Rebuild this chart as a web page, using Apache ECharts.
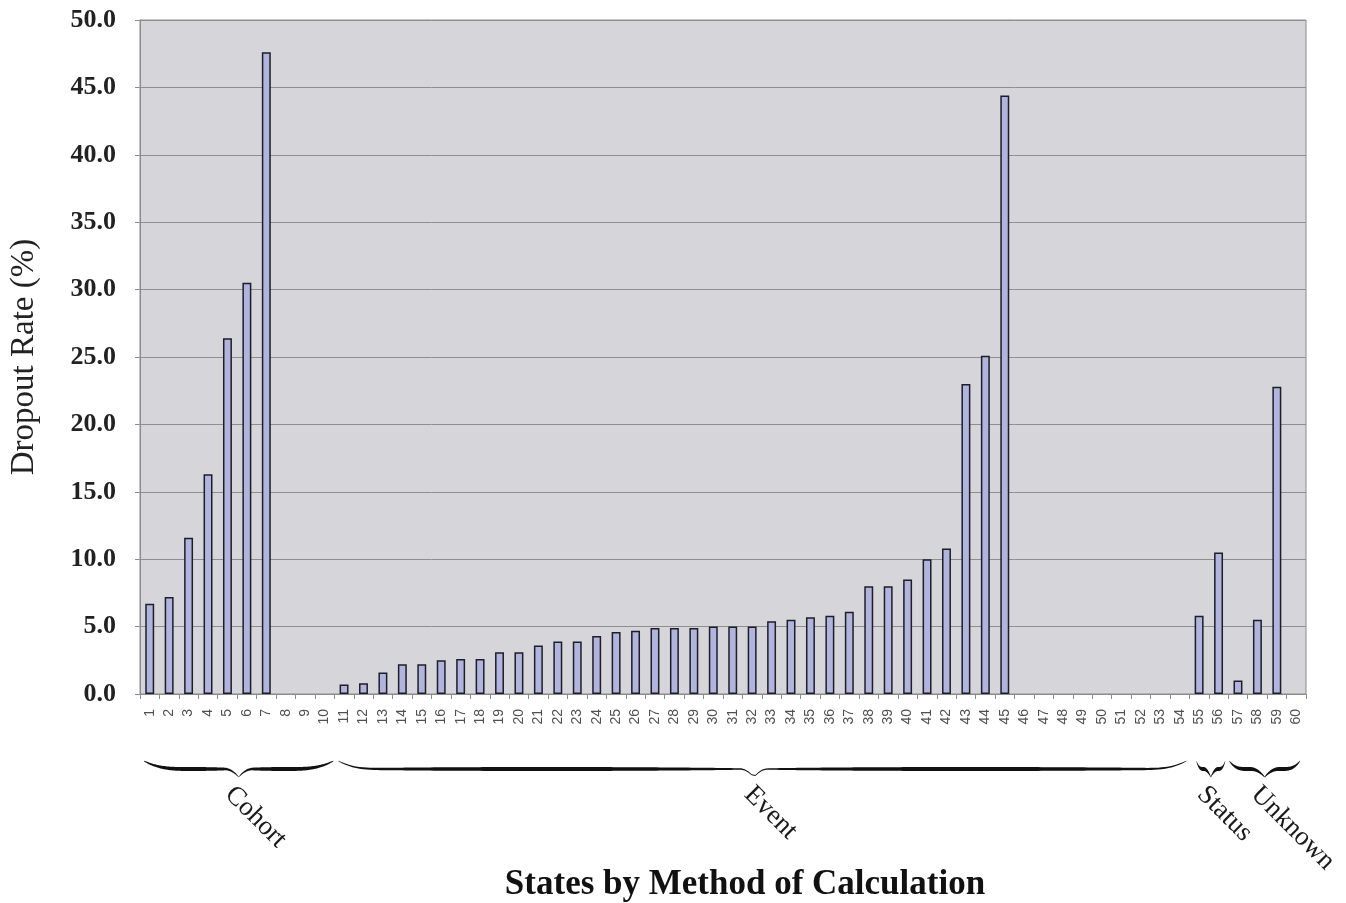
<!DOCTYPE html>
<html>
<head>
<meta charset="utf-8">
<script src="https://cdn.jsdelivr.net/npm/echarts@6/dist/echarts.min.js"></script>
<style>
  html, body { margin: 0; padding: 0; background: #ffffff; }
  #chart { width: 1346px; height: 903px; }
</style>
</head>
<body>
<div id="chart"></div>
<script>
// State numbers along the x axis
const states = Array.from({ length: 60 }, (_, i) => String(i + 1));

// Dropout rate (%) per state; null where no value is reported
const dropoutRates = [
  6.7, 7.2, 11.6, 16.3, 26.4, 30.5, 47.6, null, null, null,
  0.7, 0.8, 1.6, 2.2, 2.2, 2.5, 2.6, 2.6, 3.1, 3.1,
  3.6, 3.9, 3.9, 4.3, 4.6, 4.7, 4.9, 4.9, 4.9, 5.0,
  5.0, 5.0, 5.4, 5.5, 5.7, 5.8, 6.1, 8.0, 8.0, 8.5,
  10.0, 10.8, 23.0, 25.1, 44.4, null, null, null, null, null,
  null, null, null, null, 5.8, 10.5, 1.0, 5.5, 22.8, null
];

// Method-of-calculation groups: first and last state number of each
const groupNames = ['Cohort', 'Event', 'Status', 'Unknown'];
const groupFirst = [1, 11, 55, 57];
const groupLast = [10, 54, 56, 60];

const yTicks = [0, 5, 10, 15, 20, 25, 30, 35, 40, 45, 50];

const serif = '"Liberation Serif", "DejaVu Serif", serif';
const sans = '"Liberation Sans", Arial, sans-serif';

const chart = echarts.init(document.getElementById('chart'), null, { renderer: 'canvas' });

chart.setOption({
  backgroundColor: '#ffffff',
  animation: false,
  grid: {
    left: 138, right: 40, top: 20, bottom: 209,
    show: true, backgroundColor: '#d5d5da', borderColor: '#8c8c8c', borderWidth: 1
  },
  xAxis: {
    type: 'category',
    data: states,
    boundaryGap: true,
    axisLine: { show: true, lineStyle: { color: '#8c8c8c', width: 1 } },
    axisTick: { show: true, alignWithLabel: false, length: 5, lineStyle: { color: '#8c8c8c' } },
    axisLabel: {
      interval: 0, rotate: 90, margin: 15,
      fontFamily: sans, fontSize: 14, color: '#505050'
    },
    splitLine: { show: false }
  },
  yAxis: {
    type: 'value',
    min: 0, max: 50, interval: 5,
    name: 'Dropout Rate (%)',
    nameLocation: 'middle',
    nameGap: 99,
    nameTextStyle: { fontFamily: serif, fontSize: 33, color: '#222222' },
    axisLine: { show: true, lineStyle: { color: '#8c8c8c', width: 1 } },
    axisTick: { show: true, length: 5, lineStyle: { color: '#8c8c8c' } },
    axisLabel: {
      margin: 24,
      fontFamily: serif, fontSize: 26, fontWeight: 'bold', color: '#222222',
      formatter: v => yTicks.includes(v) ? v.toFixed(1) : ''
    },
    splitLine: { show: true, lineStyle: { color: '#8e8e8e', width: 1 } }
  },
  series: [{
    type: 'bar',
    data: dropoutRates,
    barWidth: '46%',
    itemStyle: { color: '#b1b4dc', borderColor: '#1e1e2a', borderWidth: 1.5 }
  }]
});

// Curly brace drawn as a filled calligraphic shape between x0 and x1, pointing down at xm
function bracePoints(x0, x1, xm, yTop, yMid, yTip) {
  const upper = [], lower = [];
  const n = 240;
  const halfL = xm - x0, halfR = x1 - xm;
  const curlL = Math.min(45, halfL * 0.5);
  const curlR = Math.min(45, halfR * 0.5);
  const tipW = Math.min(14, Math.min(halfL, halfR) * 0.5);
  for (let i = 0; i <= n; i++) {
    const x = x0 + (x1 - x0) * i / n;
    let y = yMid;
    // end curls
    if (x - x0 < curlL) { const f = 1 - (x - x0) / curlL; y -= (yMid - yTop) * f * f * f; }
    if (x1 - x < curlR) { const f = 1 - (x1 - x) / curlR; y -= (yMid - yTop) * f * f * f; }
    // central tip
    const d = Math.abs(x - xm);
    if (d < tipW) { const f = 1 - d / tipW; y += (yTip - yMid) * f * f; }
    const u = x <= xm ? (x - x0) / halfL : (x1 - x) / halfR;
    const th = 0.6 + 3.4 * Math.pow(Math.sin(Math.PI * Math.min(Math.max(u, 0), 1)), 0.6);
    upper.push([x, y - th / 2]);
    lower.push([x, y + th / 2]);
  }
  return upper.concat(lower.reverse());
}

function drawAnnotations() {
  const graphics = [];
  const c0 = chart.convertToPixel({ xAxisIndex: 0 }, states[0]);
  const c1 = chart.convertToPixel({ xAxisIndex: 0 }, states[1]);
  const band = c1 - c0;
  const inset = [4, 4, 7, 1];
  const outset = [1, 3, 3, 6];
  groupNames.forEach((name, gi) => {
    const left = chart.convertToPixel({ xAxisIndex: 0 }, String(groupFirst[gi])) - band / 2 + inset[gi];
    const right = chart.convertToPixel({ xAxisIndex: 0 }, String(groupLast[gi])) + band / 2 - outset[gi];
    const mid = name === 'Event' ? left + (right - left) * 0.49 : (left + right) / 2;
    graphics.push({
      type: 'polygon',
      shape: { points: bracePoints(left, right, mid, 761, 769, 777) },
      style: { fill: '#111111' },
      silent: true
    });
    graphics.push({
      type: 'text',
      x: mid + (name === 'Event' ? 4 : 0), y: 781,
      rotation: -Math.PI / 4,
      style: {
        text: name, font: '27px ' + serif, fill: '#1a1a1a',
        textAlign: 'left', textVerticalAlign: 'top'
      },
      silent: true
    });
  });
  graphics.push({
    type: 'text',
    x: 745, y: 885,
    style: {
      text: 'States by Method of Calculation', font: 'bold 35px ' + serif, fill: '#111111',
      textAlign: 'center', textVerticalAlign: 'middle'
    },
    silent: true
  });
  chart.setOption({ graphic: graphics });
}

drawAnnotations();
</script>
</body>
</html>
